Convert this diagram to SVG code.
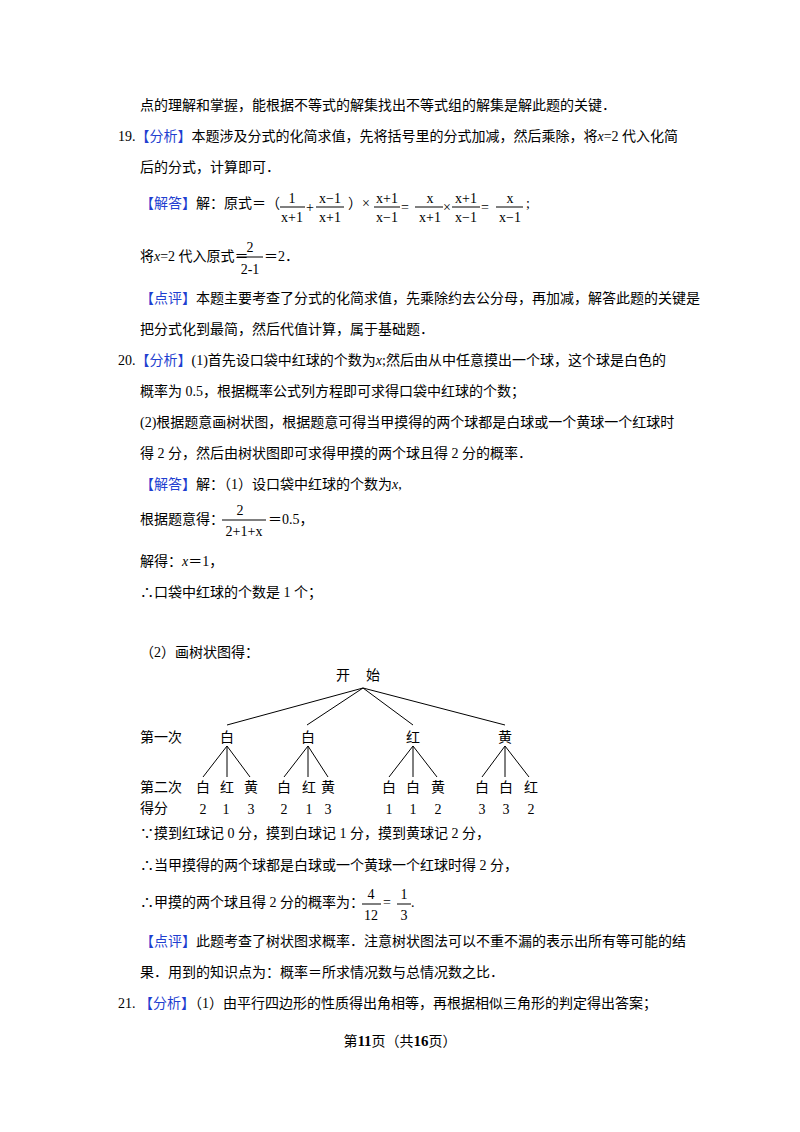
<svg xmlns="http://www.w3.org/2000/svg" width="800" height="1132" viewBox="0 0 800 1132">
<style>
text{font-family:"Liberation Serif","Noto Sans CJK SC",serif;font-size:14px;fill:#000}
.b{fill:#1f3fd0}
.m{font-family:"Liberation Sans","Noto Sans CJK SC",sans-serif;font-size:14px}
.t{font-family:"Noto Sans CJK SC",sans-serif;font-size:13px}
line{stroke:#000;stroke-width:1}
</style>
<rect width="800" height="1132" fill="#fff"/>
<text x="140" y="110">点的理解和掌握，能根据不等式的解集找出不等式组的解集是解此题的关键．</text>
<text x="118" y="141">19.<tspan class="b">【分析】</tspan>本题涉及分式的化简求值，先将括号里的分式加减，然后乘除，将<tspan font-style="italic">x</tspan>=2 代入化简</text>
<text x="140" y="172">后的分式，计算即可．</text>
<text x="140" y="208"><tspan class="b">【解答】</tspan>解：原式＝（</text>
<g class="m">
<text x="292" y="203" text-anchor="middle">1</text><line x1="280" y1="207" x2="305" y2="207"/><text x="292" y="222" text-anchor="middle">x+1</text>
<text x="306" y="212">+</text>
<text x="330" y="203" text-anchor="middle">x−1</text><line x1="316" y1="207" x2="344" y2="207"/><text x="330" y="222" text-anchor="middle">x+1</text>
<text x="348" y="208">）×</text>
<text x="387" y="203" text-anchor="middle">x+1</text><line x1="374" y1="207" x2="400" y2="207"/><text x="387" y="222" text-anchor="middle">x−1</text>
<text x="401" y="212">=</text>
<text x="430" y="203" text-anchor="middle">x</text><line x1="415" y1="207" x2="443" y2="207"/><text x="430" y="222" text-anchor="middle">x+1</text>
<text x="443" y="212">×</text>
<text x="466" y="203" text-anchor="middle">x+1</text><line x1="452" y1="207" x2="480" y2="207"/><text x="466" y="222" text-anchor="middle">x−1</text>
<text x="481" y="212">=</text>
<text x="510" y="203" text-anchor="middle">x</text><line x1="496" y1="207" x2="523" y2="207"/><text x="510" y="222" text-anchor="middle">x−1</text>
<text x="526" y="208">;</text>
</g>
<text x="140" y="261">将<tspan font-style="italic">x</tspan>=2 代入原式＝</text>
<g class="m"><text x="250" y="252" text-anchor="middle">2</text><line x1="237" y1="257" x2="263" y2="257"/><text x="250" y="274" text-anchor="middle">2-1</text></g>
<text x="264" y="261">＝2．</text>
<text x="140" y="303"><tspan class="b">【点评】</tspan>本题主要考查了分式的化简求值，先乘除约去公分母，再加减，解答此题的关键是</text>
<text x="140" y="334">把分式化到最简，然后代值计算，属于基础题．</text>
<text x="118" y="365">20.<tspan class="b">【分析】</tspan>(1)首先设口袋中红球的个数为<tspan font-style="italic">x</tspan>;然后由从中任意摸出一个球，这个球是白色的</text>
<text x="140" y="396">概率为 0.5，根据概率公式列方程即可求得口袋中红球的个数；</text>
<text x="140" y="427">(2)根据题意画树状图，根据题意可得当甲摸得的两个球都是白球或一个黄球一个红球时</text>
<text x="140" y="458">得 2 分，然后由树状图即可求得甲摸的两个球且得 2 分的概率．</text>
<text x="140" y="489"><tspan class="b">【解答】</tspan>解：（1）设口袋中红球的个数为<tspan font-style="italic">x</tspan>,</text>
<text x="140" y="524">根据题意得：</text>
<g class="m"><text x="240" y="515" text-anchor="middle">2</text><line x1="222" y1="520" x2="266" y2="520"/><text x="244" y="536" text-anchor="middle">2+1+x</text></g>
<text x="268" y="524">＝0.5，</text>
<text x="140" y="566">解得：<tspan font-style="italic">x</tspan>＝1，</text>
<text x="140" y="597">∴口袋中红球的个数是 1 个；</text>
<text x="140" y="657">（2）画树状图得：</text>
<g id="tree" class="t">
<text x="343" y="680" text-anchor="middle">开</text><text x="373" y="680" text-anchor="middle">始</text>
<text x="140" y="742">第一次</text><text x="140" y="792">第二次</text><text x="140" y="813">得分</text>
</g>
<g id="connectors">
<line x1="363" y1="688" x2="227" y2="725"/><line x1="363" y1="688" x2="307" y2="725"/><line x1="363" y1="688" x2="413" y2="725"/><line x1="363" y1="688" x2="505" y2="725"/>
<line x1="227" y1="746" x2="203" y2="777"/><line x1="227" y1="746" x2="227" y2="777"/><line x1="227" y1="746" x2="250" y2="777"/>
<line x1="308" y1="746" x2="284" y2="777"/><line x1="308" y1="746" x2="308" y2="777"/><line x1="308" y1="746" x2="328" y2="777"/>
<line x1="413" y1="746" x2="389" y2="777"/><line x1="413" y1="746" x2="413" y2="777"/><line x1="413" y1="746" x2="437" y2="777"/>
<line x1="505" y1="746" x2="482" y2="777"/><line x1="505" y1="746" x2="505" y2="777"/><line x1="505" y1="746" x2="529" y2="777"/>
</g>
<g class="t" text-anchor="middle">
<g id="n1"><text x="227" y="742">白</text></g><g id="n2"><text x="308" y="742">白</text></g><g id="n3"><text x="413" y="742">红</text></g><g id="n4"><text x="505" y="742">黄</text></g>
<g id="l2">
<text x="203" y="792">白</text><text x="227" y="792">红</text><text x="251" y="792">黄</text>
<text x="284" y="792">白</text><text x="309" y="792">红</text><text x="328" y="792">黄</text>
<text x="389" y="792">白</text><text x="413" y="792">白</text><text x="438" y="792">黄</text>
<text x="482" y="792">白</text><text x="506" y="792">白</text><text x="531" y="792">红</text>
</g>
</g>
<g id="scores" text-anchor="middle">
<text x="203" y="814">2</text><text x="226" y="814">1</text><text x="251" y="814">3</text>
<text x="284" y="814">2</text><text x="309" y="814">1</text><text x="328" y="814">3</text>
<text x="389" y="814">1</text><text x="413" y="814">1</text><text x="438" y="814">2</text>
<text x="482" y="814">3</text><text x="506" y="814">3</text><text x="531" y="814">2</text>
</g>
<text x="140" y="838">∵摸到红球记 0 分，摸到白球记 1 分，摸到黄球记 2 分，</text>
<text x="140" y="870">∴当甲摸得的两个球都是白球或一个黄球一个红球时得 2 分，</text>
<text x="140" y="907">∴甲摸的两个球且得 2 分的概率为：</text>
<g class="m"><text x="371" y="899" text-anchor="middle">4</text><line x1="362" y1="904" x2="381" y2="904"/><text x="371" y="920" text-anchor="middle">12</text>
<text x="383" y="907">=</text>
<text x="404" y="899" text-anchor="middle">1</text><line x1="397" y1="904" x2="411" y2="904"/><text x="404" y="920" text-anchor="middle">3</text></g>
<text x="411" y="907">.</text>
<text x="140" y="946"><tspan class="b">【点评】</tspan>此题考查了树状图求概率．注意树状图法可以不重不漏的表示出所有等可能的结</text>
<text x="140" y="977">果．用到的知识点为：概率＝所求情况数与总情况数之比．</text>
<text x="118" y="1008">21. <tspan class="b">【分析】</tspan>（1）由平行四边形的性质得出角相等，再根据相似三角形的判定得出答案；</text>
<text x="400" y="1046" text-anchor="middle" font-size="13">第<tspan font-weight="bold" font-size="15">11</tspan>页（共<tspan font-weight="bold" font-size="15">16</tspan>页）</text>
</svg>
